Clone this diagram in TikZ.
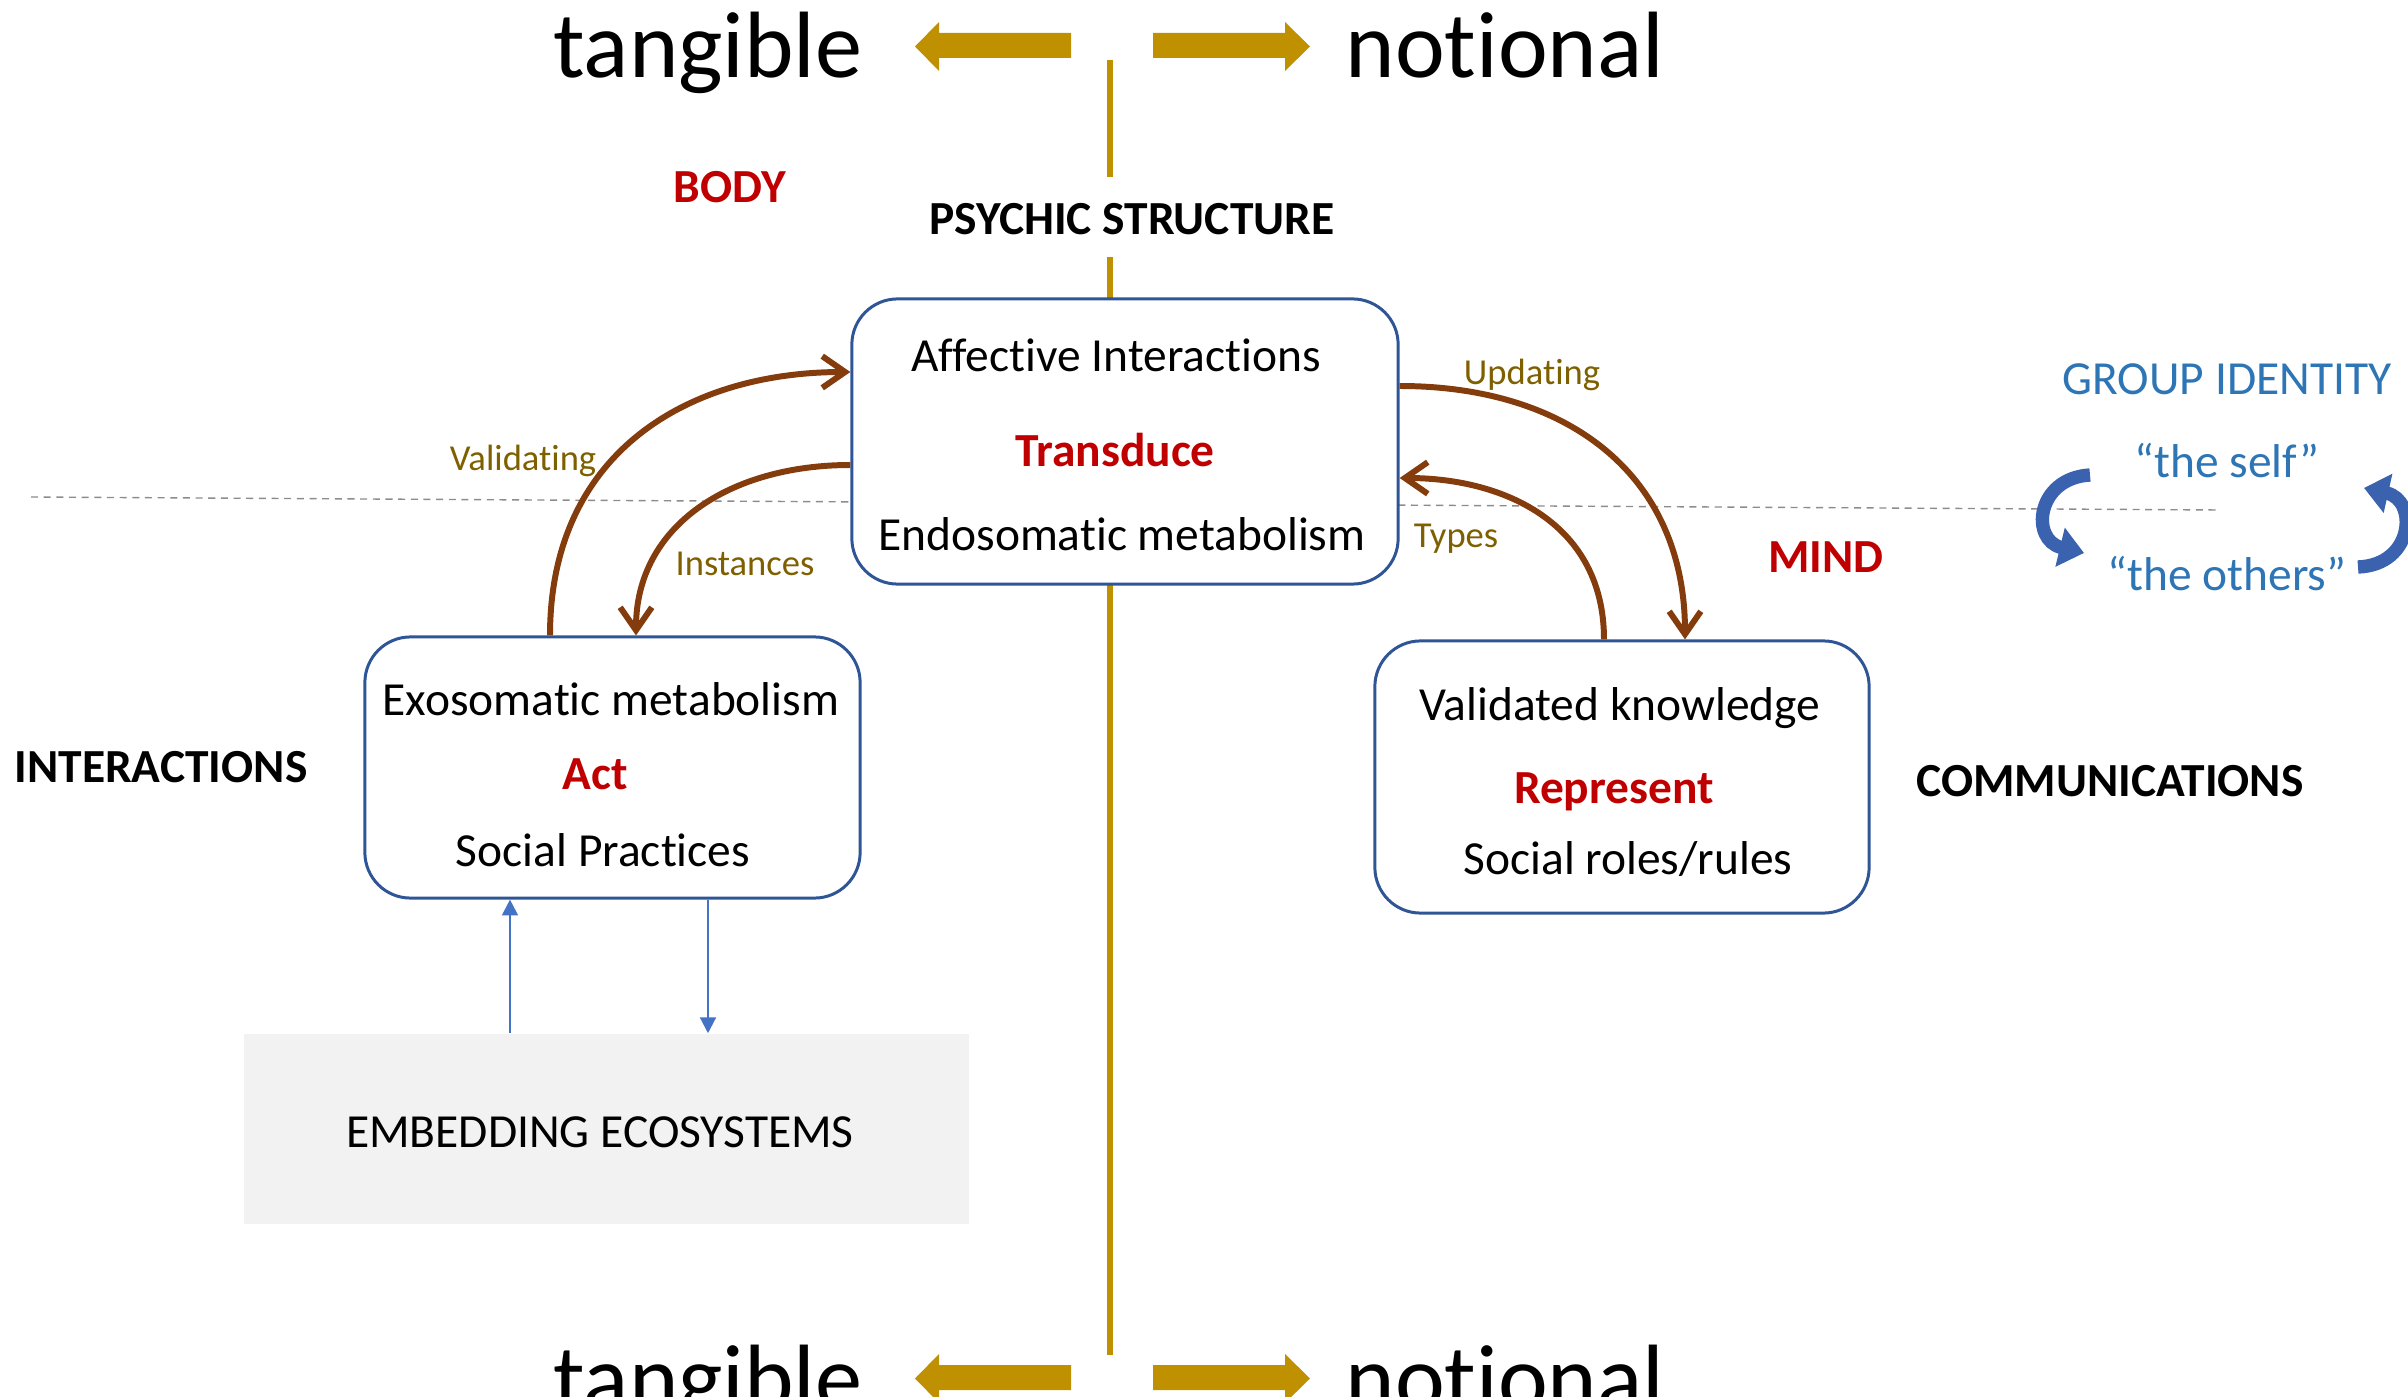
\documentclass[tikz,border=0pt]{standalone}
\usepackage{fontspec}
\setmainfont{Carlito}[Ligatures=NoCommon]
\usetikzlibrary{arrows.meta,calc}
\definecolor{goldc}{RGB}{191,144,0}
\definecolor{brownc}{RGB}{132,60,12}
\definecolor{olivec}{RGB}{127,96,0}
\definecolor{redc}{RGB}{192,0,0}
\definecolor{boxblue}{RGB}{47,85,151}
\definecolor{textblue}{RGB}{46,117,182}
\definecolor{arrowblue}{RGB}{68,114,196}
\definecolor{curveblue}{RGB}{58,98,174}
\definecolor{embgray}{RGB}{242,242,242}
\definecolor{dashgray}{RGB}{140,140,140}
\begin{document}
\begin{tikzpicture}[x=0.01cm,y=-0.01cm,
  every node/.style={inner sep=0pt, anchor=base},
  big/.style={font=\fontsize{26.8}{32}\selectfont},
  txt/.style={font=\fontsize{13.5}{16}\selectfont},
  redb/.style={font=\fontsize{13.5}{16}\selectfont\bfseries, text=redc},
  headb/.style={font=\fontsize{13.5}{16}\selectfont\bfseries},
  lbl/.style={font=\fontsize{10.4}{12}\selectfont, text=olivec},
  bluet/.style={font=\fontsize{13.5}{16}\selectfont, text=textblue},
  box/.style={draw=boxblue, line width=0.85pt, rounded corners=13pt, fill=white, anchor=center},
  goldline/.style={draw=goldc, line width=1.5pt},
  dashline/.style={draw=dashgray, line width=0.4pt, dash pattern=on 2pt off 1.6pt},
  brarrow/.style={draw=brownc, line width=1.7pt, -{Straight Barb[length=6.5pt,width=9pt]}},
  thinarrow/.style={draw=arrowblue, line width=0.6pt, -{Triangle[length=4.5pt,width=4.5pt]}},
  curvearrow/.style={draw=curveblue, line width=3.8pt, -{Triangle[length=7pt,width=11pt]}}]
\clip (0,0) rectangle (2408,1397);

% gold axis
\draw[goldline] (1110,60) -- (1110,177);
\draw[goldline] (1110,257) -- (1110,1355);
% dashed divider
\draw[dashline] (31,497) -- (2220,510);

% big gold block arrows (top and bottom)
\foreach \dy in {0,1332} {
  \fill[goldc] (1071,{33+\dy}) -- (939,{33+\dy}) -- (939,{22+\dy}) -- (915,{46.5+\dy})
     -- (939,{71+\dy}) -- (939,{58+\dy}) -- (1071,{58+\dy}) -- cycle;
  \fill[goldc] (1153,{33+\dy}) -- (1285,{33+\dy}) -- (1285,{22+\dy}) -- (1310,{46.5+\dy})
     -- (1285,{71+\dy}) -- (1285,{58+\dy}) -- (1153,{58+\dy}) -- cycle;
}
\node[big] (tang1) at (708,78) {tangible};
\node[big] (not1) at (1505,78) {notional};
\node[big] (tang2) at (708,1410) {tangible};
\node[big] (not2) at (1505,1410) {notional};

% boxes
\node[box, minimum width=5.46cm, minimum height=2.85cm] (core) at (1125,441.5) {};
\node[box, minimum width=4.95cm, minimum height=2.61cm] (act) at (612.5,767.5) {};
\node[box, minimum width=4.94cm, minimum height=2.72cm] (know) at (1622,777) {};
\node[fill=embgray, minimum width=7.25cm, minimum height=1.9cm, anchor=center] (emb) at (606.5,1129) {};

% box texts
\node[txt] (t1) at (1116,371) {Affective Interactions};
\node[redb] (t2) at (1115,466) {Transduce};
\node[txt] (t3) at (1122,550) {Endosomatic metabolism};
\node[txt] (a1) at (611,715) {Exosomatic metabolism};
\node[redb] (a2) at (595,789) {Act};
\node[txt] (a3) at (603,866) {Social Practices};
\node[txt] (k1) at (1620,720) {Validated knowledge};
\node[redb] (k2) at (1614,803) {Represent};
\node[txt] (k3) at (1628,874) {Social roles/rules};
\node[txt] (e1) at (600,1147) {EMBEDDING ECOSYSTEMS};

% headings
\node[redb] (body) at (730,203) {BODY};
\node[headb] (psy) at (1132,235) {PSYCHIC STRUCTURE};
\node[headb] (inter) at (161,782) {INTERACTIONS};
\node[headb] (comm) at (2110,796) {COMMUNICATIONS};
\node[redb] (mind) at (1826,572) {MIND};
\node[bluet] (grp) at (2227,395) {GROUP IDENTITY};
\node[bluet] (self) at (2227,477) {“the self”};
\node[bluet] (others) at (2227,590) {“the others”};

% labels
\node[lbl] (lv) at (523,470) {Validating};
\node[lbl] (li) at (745,575) {Instances};
\node[lbl] (lu) at (1532,385) {Updating};
\node[lbl] (lt) at (1456,547) {Types};

% brown connectors
\draw[brarrow] ($(act.north)+(-62.5,0)$) .. controls +(0,-180) and +(-166,0) .. ($(core.west)+(0,-69.5)$);
\draw[brarrow] ($(core.west)+(0,23.5)$) .. controls +(-120,0) and +(0,-110) .. ($(act.north)+(23.5,0)$);
\draw[brarrow] ($(core.east)+(0,-55.5)$) .. controls +(170,0) and +(0,-163) .. ($(know.north)+(63,0)$);
\draw[brarrow] ($(know.north)+(-18,0)$) .. controls +(0,-115) and +(106,0) .. ($(core.east)+(0,36.5)$);

% thin blue connectors
\draw[thinarrow] ($(emb.north)+(-96.5,0)$) -- ($(act.south)+(-102.5,0)$);
\draw[thinarrow] ($(act.south)+(95.5,0)$) -- ($(emb.north)+(101.5,0)$);

% group identity curved arrows
\coordinate (c1s) at (2090,475);
\coordinate (c1e) at (2084,553);
\coordinate (c2s) at (2358,567);
\coordinate (c2e) at (2364,488);
\draw[curvearrow] (c1s) .. controls (2036,478) and (2030,540) .. (c1e);
\draw[curvearrow] (c2s) .. controls (2414,565) and (2418,500) .. (c2e);
\end{tikzpicture}
\end{document}
